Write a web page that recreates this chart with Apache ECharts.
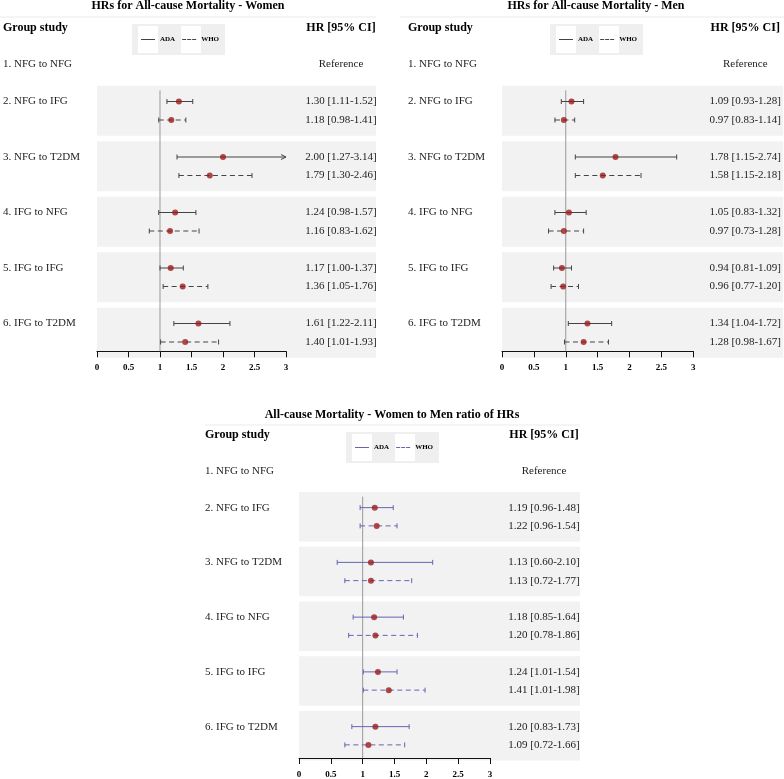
<!DOCTYPE html>
<html><head><meta charset="utf-8">
<script src="https://cdn.jsdelivr.net/npm/echarts@6/dist/echarts.min.js"></script>
<style>html,body{margin:0;padding:0;background:#fff}#c{width:784px;height:779px}</style>
</head><body><div id="c"></div>
<script>
// ---------- data ----------
const groups = ['1. NFG to NFG', '2. NFG to IFG', '3. NFG to T2DM', '4. IFG to NFG', '5. IFG to IFG', '6. IFG to T2DM'];
const xTicks = [0, 0.5, 1, 1.5, 2, 2.5, 3];

// groups 2..6 (group 1 is the reference)
const womenAdaHR = [1.30, 2.00, 1.24, 1.17, 1.61];
const womenAdaLo = [1.11, 1.27, 0.98, 1.00, 1.22];
const womenAdaHi = [1.52, 3.14, 1.57, 1.37, 2.11];
const womenWhoHR = [1.18, 1.79, 1.16, 1.36, 1.40];
const womenWhoLo = [0.98, 1.30, 0.83, 1.05, 1.01];
const womenWhoHi = [1.41, 2.46, 1.62, 1.76, 1.93];

const menAdaHR = [1.09, 1.78, 1.05, 0.94, 1.34];
const menAdaLo = [0.93, 1.15, 0.83, 0.81, 1.04];
const menAdaHi = [1.28, 2.74, 1.32, 1.09, 1.72];
const menWhoHR = [0.97, 1.58, 0.97, 0.96, 1.28];
const menWhoLo = [0.83, 1.15, 0.73, 0.77, 0.98];
const menWhoHi = [1.14, 2.18, 1.28, 1.20, 1.67];

const ratioAdaHR = [1.19, 1.13, 1.18, 1.24, 1.20];
const ratioAdaLo = [0.96, 0.60, 0.85, 1.01, 0.83];
const ratioAdaHi = [1.48, 2.10, 1.64, 1.54, 1.73];
const ratioWhoHR = [1.22, 1.13, 1.20, 1.41, 1.09];
const ratioWhoLo = [0.96, 0.72, 0.78, 1.01, 0.72];
const ratioWhoHi = [1.54, 1.77, 1.86, 1.98, 1.66];

// ---------- layout / style ----------
const FONT = 'Liberation Serif';
const NROWS = 18;
const XMAX = 3;
const POINT = '#9b1b1b';
const panels = [
  { title: 'HRs for All-cause Mortality - Women', color: '#444', titleX: 188, titleY: 0,
    gridLeft: 96, gridWidth: 190, gridTop: 18.25, labelX: 2, hrCenter: 341, box: [132, 24], sep: [0, 376, 17], axisOffset: 0,
    ada: [womenAdaHR, womenAdaLo, womenAdaHi], who: [womenWhoHR, womenWhoLo, womenWhoHi] },
  { title: 'HRs for All-cause Mortality - Men', color: '#444', titleX: 596, titleY: 0,
    gridLeft: 502, gridWidth: 192, gridTop: 18.25, labelX: 408, hrCenter: 746, box: [550, 24], sep: [400, 784, 17], axisOffset: 0,
    ada: [menAdaHR, menAdaLo, menAdaHi], who: [menWhoHR, menWhoLo, menWhoHi] },
  { title: 'All-cause Mortality - Women to Men ratio of HRs', color: '#6565b0', titleX: 392, titleY: 409,
    gridLeft: 299, gridWidth: 191, gridTop: 425.5, labelX: 205, hrCenter: 544, box: [346, 432], sep: [205, 580, 425], axisOffset: 4,
    ada: [ratioAdaHR, ratioAdaLo, ratioAdaHi], who: [ratioWhoHR, ratioWhoLo, ratioWhoHi] }
];

const fmt = v => v.toFixed(2);
const rowCats = Array.from({ length: NROWS }, (_, i) => String(i));
const adaRow = g => 4 + (g - 1) * 3;   // g = 1..5 (group index into groups)

function leftLabels() {
  const arr = new Array(NROWS).fill('');
  arr[0] = '{h|Group study}';
  arr[2] = '{n|' + groups[0] + '}';
  for (let g = 1; g < groups.length; g++) arr[adaRow(g)] = '{n|' + groups[g] + '}';
  return arr;
}
function rightLabels(p) {
  const arr = new Array(NROWS).fill('');
  arr[0] = '{h|HR [95% CI]}';
  arr[2] = '{n|Reference}';
  for (let g = 1; g < groups.length; g++) {
    const k = g - 1;
    arr[adaRow(g)] = '{n|' + fmt(p.ada[0][k]) + ' [' + fmt(p.ada[1][k]) + '-' + fmt(p.ada[2][k]) + ']}';
    arr[adaRow(g) + 1] = '{n|' + fmt(p.who[0][k]) + ' [' + fmt(p.who[1][k]) + '-' + fmt(p.who[2][k]) + ']}';
  }
  return arr;
}
const rich = {
  h: { fontFamily: FONT, fontSize: 12, fontWeight: 'bold', color: '#000' },
  n: { fontFamily: FONT, fontSize: 11, color: '#222' }
};

function errRender(dashed, color) {
  return function (params, api) {
    const lo = api.value(0), hi = api.value(1), row = api.value(2);
    const p0 = api.coord([lo, row]);
    const p1 = api.coord([Math.min(hi, XMAX), row]);
    const cap = 2.5;
    const lineStyle = { stroke: color, lineWidth: 1, lineDash: dashed ? [5, 3.5] : null, fill: null };
    const capStyle = { stroke: color, lineWidth: 1, fill: null };
    const ch = [
      { type: 'line', shape: { x1: p0[0], y1: p0[1], x2: p1[0], y2: p1[1] }, style: lineStyle },
      { type: 'line', shape: { x1: p0[0], y1: p0[1] - cap, x2: p0[0], y2: p0[1] + cap }, style: capStyle }
    ];
    if (hi > XMAX) {
      ch.push({ type: 'polyline', shape: { points: [[p1[0] - 5, p1[1] - 2.5], [p1[0], p1[1]], [p1[0] - 5, p1[1] + 2.5]] }, style: capStyle });
    } else {
      ch.push({ type: 'line', shape: { x1: p1[0], y1: p1[1] - cap, x2: p1[0], y2: p1[1] + cap }, style: capStyle });
    }
    return { type: 'group', children: ch };
  };
}

const grid = [], xAxis = [], yAxis = [], series = [], title = [], legend = [], graphic = [];
panels.forEach((p, i) => {
  grid.push({ left: p.gridLeft, width: p.gridWidth, top: p.gridTop, height: NROWS * 18.5 });
  xAxis.push({
    type: 'value', gridIndex: i, min: xTicks[0], max: xTicks[xTicks.length - 1], interval: xTicks[1] - xTicks[0],
    offset: p.axisOffset,
    axisLine: { show: true, onZero: false, lineStyle: { color: '#111', width: 1 } },
    axisTick: { show: true, length: 6, lineStyle: { color: '#111' } },
    axisLabel: { margin: 12, fontFamily: FONT, fontSize: 9, fontWeight: 'bold', color: '#000' },
    splitLine: { show: false }
  });
  const L = leftLabels(), R = rightLabels(p);
  yAxis.push({
    type: 'category', gridIndex: i, data: rowCats, inverse: true, position: 'left',
    axisLine: { show: false }, axisTick: { show: false }, splitLine: { show: false },
    axisLabel: { interval: 0, align: 'left', margin: p.gridLeft - p.labelX, formatter: (v, idx) => L[idx], rich: rich }
  });
  yAxis.push({
    type: 'category', gridIndex: i, data: rowCats, inverse: true, position: 'right',
    axisLine: { show: false }, axisTick: { show: false }, splitLine: { show: false },
    axisLabel: { interval: 0, align: 'center', margin: p.hrCenter - (p.gridLeft + p.gridWidth), formatter: (v, idx) => R[idx], rich: rich }
  });
  const yi = 2 * i;
  // background bands for groups 2..6
  const bandData = [];
  for (let g = 1; g < groups.length; g++) bandData.push([0, adaRow(g)]);
  series.push({
    type: 'custom', xAxisIndex: i, yAxisIndex: yi, silent: true, z: 0, clip: false,
    encode: { x: 0, y: 1 }, data: bandData,
    renderItem: (params, api) => {
      const row = api.value(1);
      const a = api.coord([0, row]), b = api.coord([XMAX, row + 1]);
      const bw = api.size([0, 1])[1];
      const c = (a[1] + b[1]) / 2, half = 1.35 * bw;
      return { type: 'rect', shape: { x: a[0], y: c - half, width: b[0] - a[0] + 90, height: 2 * half }, style: { fill: '#f2f2f2' } };
    }
  });
  // reference line at HR = 1
  series.push({
    type: 'custom', xAxisIndex: i, yAxisIndex: yi, silent: true, z: 1, clip: false,
    encode: { x: 0, y: 1 }, data: [[1, adaRow(1)]],
    renderItem: (params, api) => {
      const bw = api.size([0, 1])[1];
      const t = api.coord([api.value(0), api.value(1)]);
      const b = api.coord([api.value(0), NROWS - 1]);
      return { type: 'line', shape: { x1: t[0], y1: t[1] - 0.6 * bw, x2: b[0], y2: b[1] + 0.5 * bw + p.axisOffset }, style: { stroke: '#999', lineWidth: 1 } };
    }
  });
  // error bars
  [['ADA', p.ada, false, 0], ['WHO', p.who, true, 1]].forEach(([name, d, dashed, off]) => {
    const data = [];
    for (let g = 1; g < groups.length; g++) data.push([d[1][g - 1], d[2][g - 1], adaRow(g) + off, d[0][g - 1]]);
    series.push({
      type: 'custom', name: name, xAxisIndex: i, yAxisIndex: yi, z: 2, clip: false,
      encode: { x: [0, 1], y: 2 }, itemStyle: { color: p.color }, data: data,
      renderItem: errRender(dashed, p.color)
    });
    series.push({
      type: 'scatter', xAxisIndex: i, yAxisIndex: yi, z: 3, symbol: 'circle', symbolSize: 6,
      itemStyle: { color: POINT }, silent: true,
      data: data.map(r => [r[3], r[2]])
    });
  });
  title.push({
    text: p.title, left: p.titleX, top: p.titleY, textAlign: 'center', padding: 0,
    textStyle: { fontFamily: FONT, fontSize: 12, fontWeight: 'bold', color: '#000' }
  });
  const [bx, by] = p.box;
  legend.push({
    left: bx + 9, top: by + 12, padding: 0, orient: 'horizontal', selectedMode: false,
    itemWidth: 14, itemHeight: 1.6, itemGap: 7,
    textStyle: { fontFamily: FONT, fontSize: 7, fontWeight: 'bold', color: '#000', padding: [0, 0, 0, 0] },
    itemStyle: { borderWidth: 0 },
    data: [
      { name: 'ADA', icon: 'path://M0,0H14V1H0Z', itemStyle: { color: p.color, borderWidth: 0 } },
      { name: 'WHO', icon: 'path://M0,0H4V1H0Z M5,0H9V1H5Z M10,0H14V1H10Z', itemStyle: { color: p.color, borderWidth: 0 } }
    ]
  });
  graphic.push(
    { type: 'line', z: 0, silent: true, shape: { x1: p.sep[0], y1: p.sep[2], x2: p.sep[1], y2: p.sep[2] }, style: { stroke: '#ebebeb', lineWidth: 1 } },
    { type: 'rect', z: 0, silent: true, shape: { x: bx, y: by, width: 93, height: 31 }, style: { fill: '#efefef' } },
    { type: 'rect', z: 0, silent: true, shape: { x: bx + 6, y: by + 2, width: 20, height: 27 }, style: { fill: '#ffffff' } },
    { type: 'rect', z: 0, silent: true, shape: { x: bx + 49, y: by + 2, width: 20, height: 27 }, style: { fill: '#ffffff' } }
  );
});

const chart = echarts.init(document.getElementById('c'), null, { renderer: 'canvas' });
chart.setOption({ animation: false, backgroundColor: '#fff', title, legend, grid, xAxis, yAxis, series, graphic });
</script></body></html>
